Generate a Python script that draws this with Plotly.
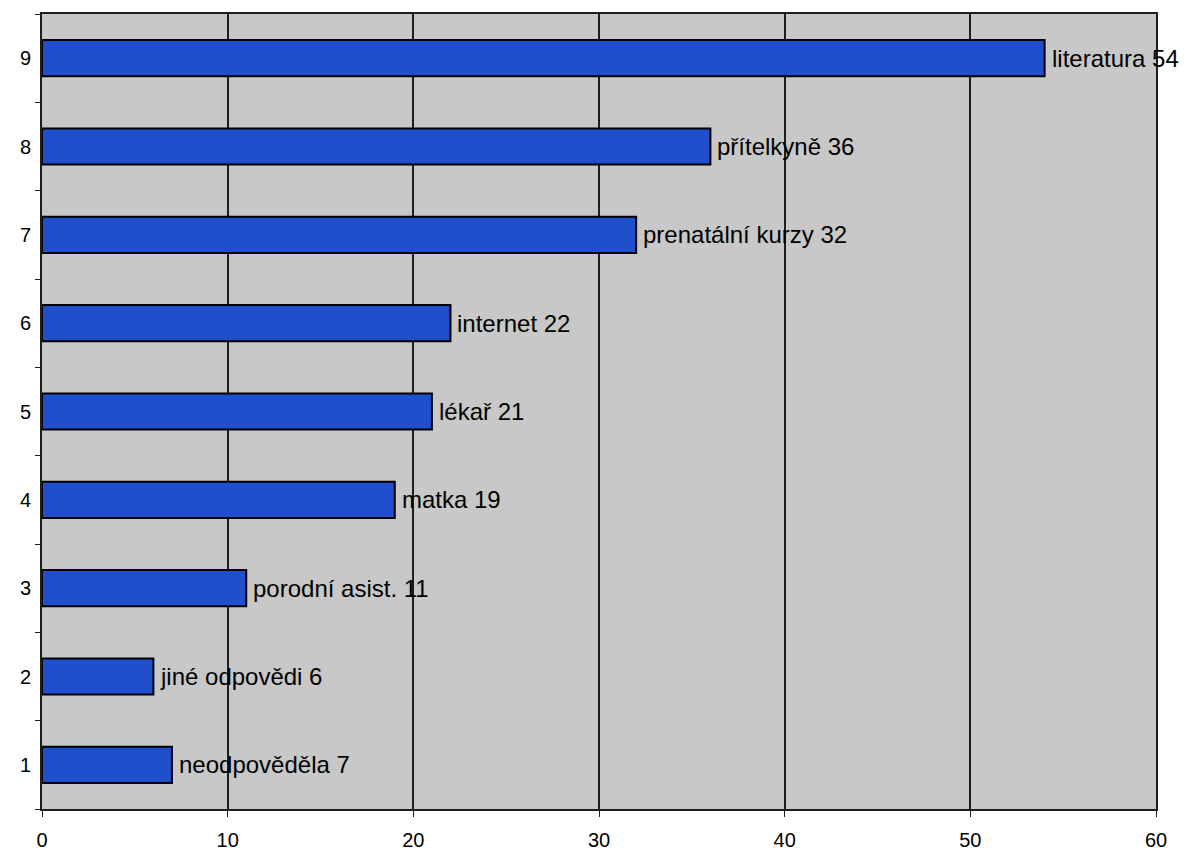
import plotly.graph_objects as go

# Zdroje informací o porodu (počet respondentek)
categories = ["1", "2", "3", "4", "5", "6", "7", "8", "9"]
sources = ["neodpověděla", "jiné odpovědi", "porodní asist.", "matka", "lékař",
           "internet", "prenatální kurzy", "přítelkyně", "literatura"]
counts = [7, 6, 11, 19, 21, 22, 32, 36, 54]
x_ticks = [0, 10, 20, 30, 40, 50, 60]

FONT = "Liberation Sans, Arial, sans-serif"

fig = go.Figure(
    go.Bar(
        x=counts,
        y=categories,
        orientation="h",
        width=0.41,
        marker=dict(color="#1f4fcc", line=dict(color="#000000", width=2)),
        hoverinfo="x+y",
    )
)

# value labels to the right of each bar (category axis: position = index)
for pos, (src, cnt) in enumerate(zip(sources, counts)):
    fig.add_annotation(
        x=cnt,
        y=pos,
        text=f"{src} {cnt}",
        showarrow=False,
        xanchor="left",
        yanchor="middle",
        xshift=5,
        font=dict(family=FONT, size=24, color="#000000"),
    )

fig.update_layout(
    width=1201,
    height=863,
    margin=dict(l=42, r=45, t=13, b=49),
    paper_bgcolor="#ffffff",
    plot_bgcolor="#c8c8c8",
    showlegend=False,
    font=dict(family=FONT, size=20, color="#000000"),
)

fig.update_xaxes(
    range=[0, 60],
    tickvals=x_ticks,
    showgrid=True,
    gridcolor="#1e1e1e",
    gridwidth=1.8,
    zeroline=False,
    showline=True,
    linecolor="#1e1e1e",
    linewidth=1.8,
    mirror=True,
    ticks="outside",
    ticklen=6,
    tickcolor="#1e1e1e",
    tickfont=dict(family=FONT, size=20),
    ticklabelstandoff=6,
)

fig.update_yaxes(
    type="category",
    categoryorder="array",
    categoryarray=categories,
    range=[-0.5, 8.5],
    tickson="boundaries",
    ticks="outside",
    ticklen=5,
    tickcolor="#1e1e1e",
    showgrid=False,
    showline=True,
    linecolor="#1e1e1e",
    linewidth=1.8,
    mirror=True,
    ticklabelstandoff=5,
    tickfont=dict(family=FONT, size=20),
)

fig.write_html("out.html")
